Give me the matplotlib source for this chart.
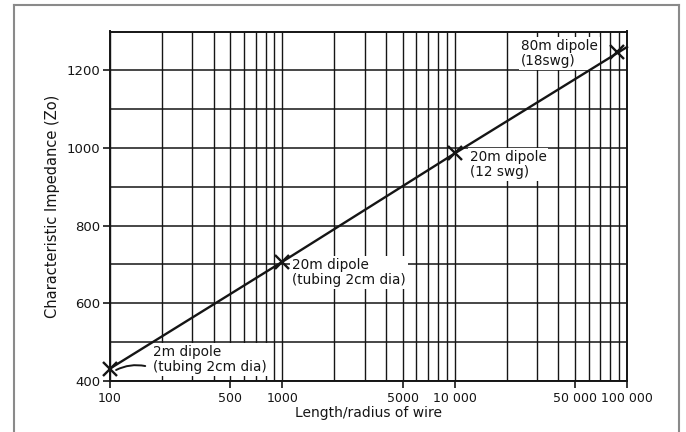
import matplotlib
matplotlib.use("Agg")
import matplotlib.pyplot as plt
from matplotlib.lines import Line2D
from matplotlib.ticker import FixedLocator, FixedFormatter, NullLocator

# ---- data ----
line_x = [100, 1000, 10000, 100000]
line_z = [432, 707, 986, 1260]
marker_x = [100, 1000, 10000, 88000]
marker_z = [432, 707, 986, 1246]
labels = ["2m dipole\n(tubing 2cm dia)", "20m dipole\n(tubing 2cm dia)",
          "20m dipole\n(12 swg)", "80m dipole\n(18swg)"]
label_pos = [(178, 455), (1140, 680), (12200, 957), (24200, 1244)]
x_ticks = [100, 500, 1000, 5000, 10000, 50000, 100000]
x_ticklabels = ["100", "500", "1000", "5000", "10 000", "50 000", "100 000"]
y_ticks = [400, 600, 800, 1000, 1200]
y_grid = [400, 500, 600, 700, 800, 900, 1000, 1100, 1200, 1300]
x_grid = [m * 10 ** e for e in (2, 3, 4) for m in range(1, 10)] + [100000]

plt.rcParams['font.family'] = ['DejaVu Sans']
fig = plt.figure(figsize=(6.86, 4.32), dpi=100)
ax = fig.add_axes([110 / 686, 1 - 381 / 432, (627 - 110) / 686, (381 - 31.5) / 432])

ink = '#151515'
ax.set_xscale('log')
ax.set_xlim(100, 100000)
ax.set_ylim(400, 1300)

for gx in x_grid:
    ax.axvline(gx, color=ink, lw=1.0, zorder=1)
for gy in y_grid:
    ax.axhline(gy, color=ink, lw=1.1, zorder=1)

ax.plot(line_x, line_z, color=ink, lw=1.7, zorder=4, clip_on=False)
ax.plot(marker_x, marker_z, 'x', color=ink, ms=9.5, mew=1.7, zorder=5, clip_on=False)

for (tx, ty), txt in zip(label_pos, labels):
    ax.text(tx, ty, txt, fontsize=9.8, color=ink, ha='left', va='center',
            linespacing=1.1, zorder=3,
            bbox=dict(facecolor='white', edgecolor='none', pad=1.5))

# leader from 2m label to its marker
ax.annotate("", xy=(105, 425), xytext=(166, 437),
            arrowprops=dict(arrowstyle='-', color=ink, lw=1.4,
                            connectionstyle='arc3,rad=0.2'), zorder=6)

ax.xaxis.set_major_locator(FixedLocator(x_ticks))
ax.xaxis.set_major_formatter(FixedFormatter(x_ticklabels))
ax.xaxis.set_minor_locator(NullLocator())
ax.set_yticks(y_ticks)
ax.tick_params(axis='both', direction='out', length=5, width=1.2, color=ink,
               labelsize=9, labelcolor=ink, pad=2)
ax.tick_params(axis='y', labelsize=9.5)
ax.tick_params(axis='x', pad=3)

for s in ax.spines.values():
    s.set_color(ink)
    s.set_linewidth(1.4)

ax.set_xlabel("Length/radius of wire", fontsize=10, color=ink, labelpad=1)
ax.set_ylabel("Characteristic Impedance (Zo)", fontsize=10.5, color=ink, labelpad=5)

# outer frame (left, top, right; bottom is cut off)
fx = lambda px: px / 686
fy = lambda py: 1 - py / 432
frame = '#8a8a8a'
fig.add_artist(Line2D([fx(14), fx(14)], [fy(5), fy(440)], color=frame, lw=1.5))
fig.add_artist(Line2D([fx(14), fx(679)], [fy(5), fy(5)], color=frame, lw=1.5))
fig.add_artist(Line2D([fx(679), fx(679)], [fy(5), fy(440)], color=frame, lw=1.5))

fig.savefig("out.png", dpi=100)
